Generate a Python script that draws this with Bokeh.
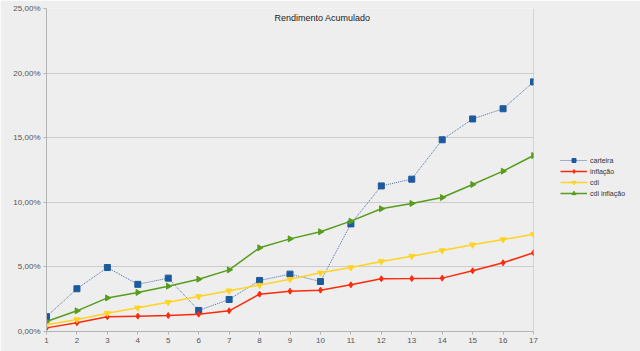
from bokeh.plotting import figure
from bokeh.models import Range1d, Legend, LegendItem, CustomJSTickFormatter, FixedTicker, Label
from bokeh.embed import file_html
from bokeh.resources import INLINE

periodos = list(range(1, 18))
carteira = [1.15, 3.31, 4.95, 3.65, 4.13, 1.63, 2.48, 3.95, 4.44, 3.87, 8.33, 11.27, 11.79, 14.84, 16.45, 17.24, 19.32]
inflacao = [0.28, 0.67, 1.14, 1.19, 1.24, 1.34, 1.60, 2.89, 3.12, 3.20, 3.61, 4.08, 4.10, 4.13, 4.70, 5.32, 6.09]
cdi = [0.52, 0.93, 1.42, 1.83, 2.27, 2.71, 3.15, 3.59, 4.05, 4.54, 4.95, 5.42, 5.83, 6.27, 6.71, 7.12, 7.53]
cdi_inflacao = [0.77, 1.60, 2.60, 3.02, 3.51, 4.05, 4.77, 6.48, 7.17, 7.72, 8.54, 9.50, 9.91, 10.37, 11.38, 12.41, 13.62]
y_ticks = [0, 5, 10, 15, 20, 25]
titulo = "Rendimento Acumulado"
nomes = ["carteira", "inflação", "cdi", "cdi inflação"]

BG = "#eeeeee"
p = figure(width=640, height=351, output_backend="svg", toolbar_location=None,
           x_range=Range1d(1, 17), y_range=Range1d(0, 25),
           frame_width=487, frame_height=323,
           min_border_left=46, min_border_right=107, min_border_top=8, min_border_bottom=20,
           background_fill_color=BG, border_fill_color=BG, outline_line_color=None)

p.xgrid.grid_line_color = None
p.ygrid.grid_line_color = "#cccccc"
p.ygrid.ticker = FixedTicker(ticks=y_ticks)

p.xaxis.ticker = FixedTicker(ticks=periodos)
p.yaxis.ticker = FixedTicker(ticks=y_ticks)
p.yaxis.formatter = CustomJSTickFormatter(code="return tick.toFixed(2).replace('.', ',') + '%';")
for ax in (p.xaxis, p.yaxis):
    ax.axis_line_color = "#b3b3b3"
    ax.major_tick_line_color = "#b3b3b3"
    ax.major_tick_out = 3
    ax.major_tick_in = 0
    ax.minor_tick_line_color = None
    ax.major_label_text_font = "Liberation Sans"
    ax.major_label_text_font_size = "8px"
    ax.major_label_text_color = "#555555"
    ax.major_label_standoff = 3

# right border line
p.line(x=[17, 17], y=[0, 25], line_color="#b3b3b3", line_width=1)

r1 = p.line(periodos, carteira, line_color="#4a6fa5", line_width=1, line_dash="1 1")
m1 = p.scatter(periodos, carteira, marker="square", size=6, fill_color="#1c5a9e", line_color="#1c5a9e")
r2 = p.line(periodos, inflacao, line_color="#ff2a0a", line_width=1.5)
m2 = p.scatter(periodos, inflacao, marker="diamond", size=6, fill_color="#ff2a0a", line_color="#ff2a0a")
r3 = p.line(periodos, cdi, line_color="#ffd320", line_width=1.5)
m3 = p.scatter(periodos, cdi, marker="inverted_triangle", size=6, fill_color="#ffd320", line_color="#ffd320")
r4 = p.line(periodos, cdi_inflacao, line_color="#579d1c", line_width=1.5)
m4 = p.scatter(periodos, cdi_inflacao, marker="triangle", angle=-1.5708, size=6, fill_color="#579d1c", line_color="#579d1c")

legend = Legend(items=[LegendItem(label=nomes[0], renderers=[r1, m1]),
                       LegendItem(label=nomes[1], renderers=[r2, m2]),
                       LegendItem(label=nomes[2], renderers=[r3, m3]),
                       LegendItem(label=nomes[3], renderers=[r4, m4])],
                location=(27, 133), background_fill_alpha=0, border_line_color=None,
                label_text_font="Liberation Sans", label_text_font_size="7px",
                label_text_color="#333333", glyph_width=27, glyph_height=10,
                label_standoff=3, spacing=1, padding=0, margin=0, label_height=10)
p.add_layout(legend, "right")

title = Label(x=276, y=314, x_units="screen", y_units="screen", text=titulo,
              text_font="Liberation Sans", text_font_size="9px", text_color="#222222",
              text_align="center", text_baseline="middle")
p.add_layout(title)

open("out.html", "w").write(file_html(p, INLINE))
